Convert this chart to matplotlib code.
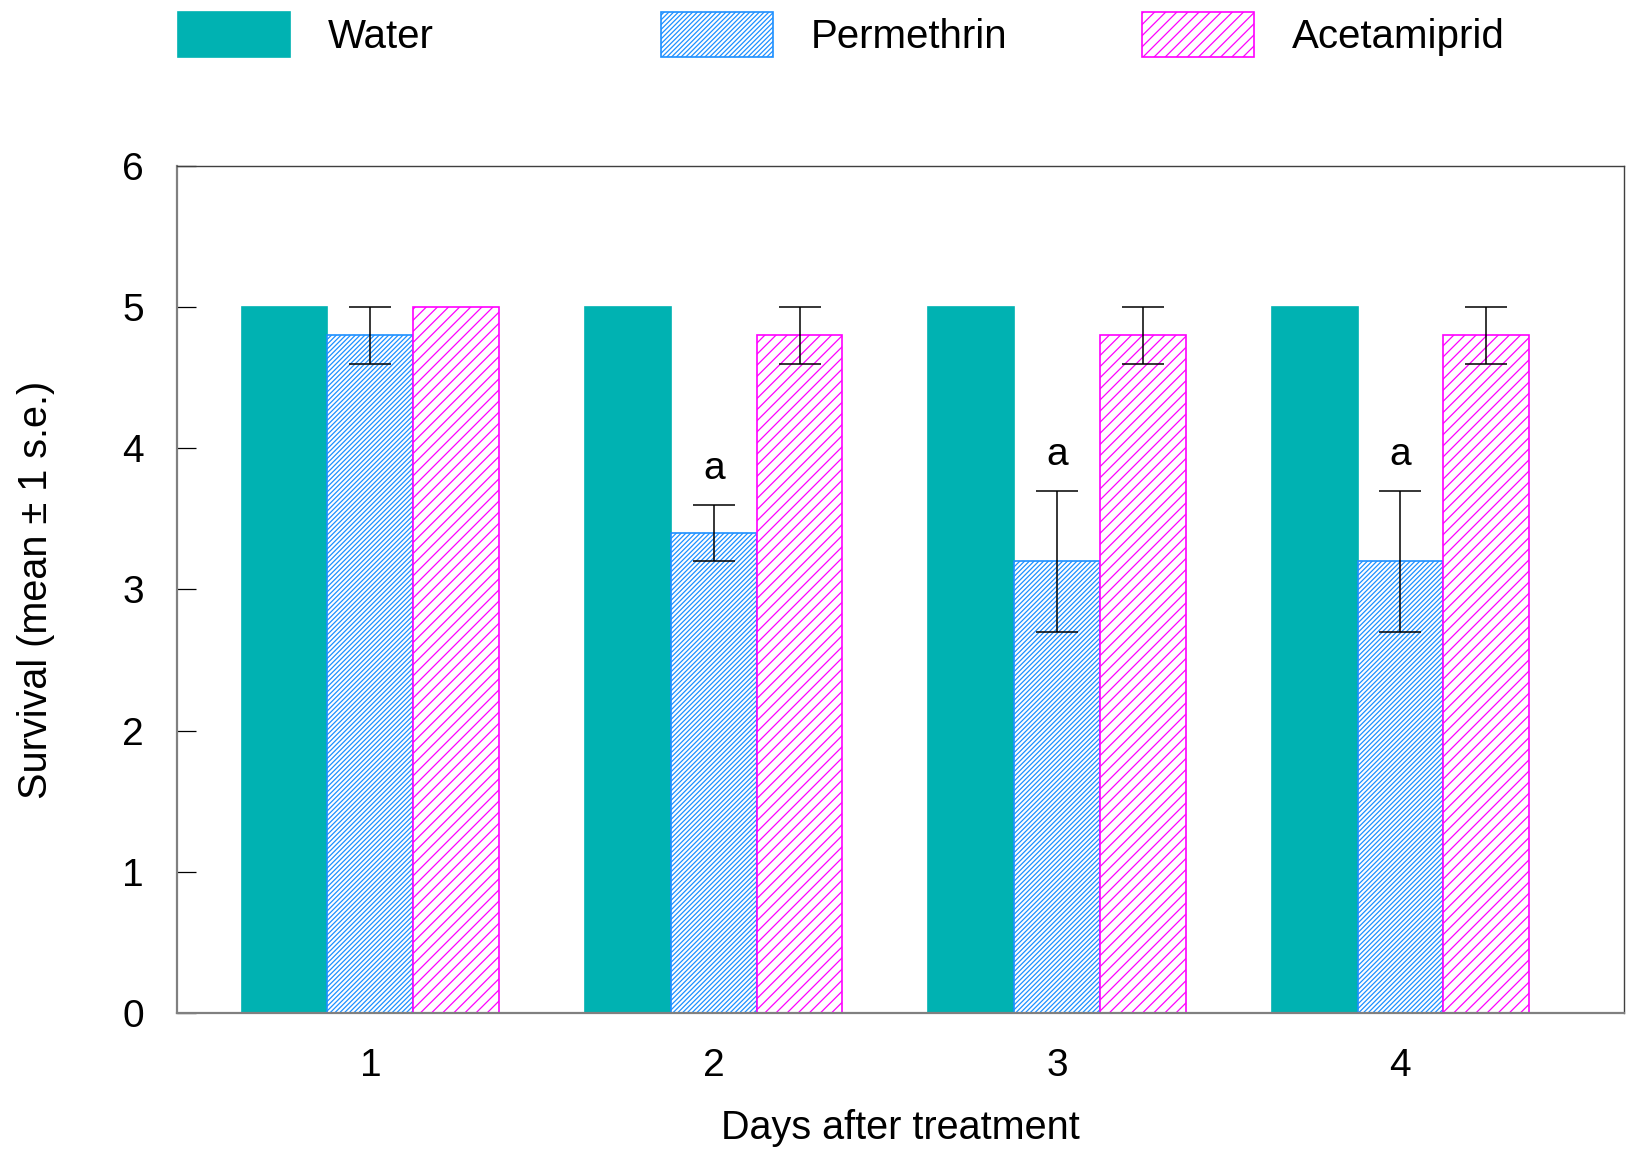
import numpy as np
import matplotlib
matplotlib.use("Agg")
import matplotlib.pyplot as plt
from matplotlib.patches import Patch

plt.rcParams['font.family'] = ['Liberation Sans', 'DejaVu Sans']
plt.rcParams['hatch.linewidth'] = 0.9

days = [1, 2, 3, 4]
series = ["Water", "Permethrin", "Acetamiprid"]
water = [5.0, 5.0, 5.0, 5.0]
water_se = [0, 0, 0, 0]
permethrin = [4.8, 3.4, 3.2, 3.2]
permethrin_se = [0.2, 0.2, 0.5, 0.5]
acetamiprid = [5.0, 4.8, 4.8, 4.8]
acetamiprid_se = [0, 0.2, 0.2, 0.2]
letters = ["", "a", "a", "a"]  # above permethrin bars

fig = plt.figure(figsize=(16.29, 11.52), dpi=100)
ax = fig.add_axes([0.1087, 0.1207, 0.8882, 0.7352])

x = np.array(days, dtype=float)
w = 0.25
styles = [
    dict(facecolor='#00B2B2', edgecolor='#00B2B2', hatch=None),
    dict(facecolor='white', edgecolor='#1E90FF', hatch='///////'),
    dict(facecolor='white', edgecolor='#FF00FF', hatch='///'),
]
vals = [water, permethrin, acetamiprid]
errs = [water_se, permethrin_se, acetamiprid_se]

for i, (v, e, st) in enumerate(zip(vals, errs, styles)):
    xs = x + (i - 1) * w
    ax.bar(xs, v, width=w, linewidth=1.2, **st)
    e = np.array(e)
    m = e > 0
    if m.any():
        ax.errorbar(xs[m], np.array(v)[m], yerr=e[m], fmt='none',
                    ecolor='black', elinewidth=1.1, capsize=15, capthick=1.1)

for xi, v, e, lab in zip(x, permethrin, permethrin_se, letters):
    if lab:
        ax.text(xi, v + e + 0.25, lab, ha='center', va='center', fontsize=28)

ax.set_xlim(0.437, 4.651)
ax.set_ylim(0, 6)
ax.set_xticks(days)
ax.set_yticks(range(7))
ax.tick_params(axis='x', length=0, pad=25, labelsize=28)
ax.tick_params(axis='y', direction='in', length=14, width=0.9, pad=24, labelsize=28)

for s in ['left', 'bottom']:
    ax.spines[s].set_color('#808080')
    ax.spines[s].set_linewidth(1.6)
for s in ['top', 'right']:
    ax.spines[s].set_color('#404040')
    ax.spines[s].set_linewidth(1.0)

ax.set_xlabel("Days after treatment", fontsize=28.5, labelpad=18)
ax.set_ylabel("Survival (mean \u00b1 1 s.e.)", fontsize=28.5, labelpad=48)

# legend: one entry per slot, patches evenly spaced across the top
leg_x = [0.1093, 0.4058, 0.7010]
for name, st, lx in zip(series, styles, leg_x):
    h = Patch(linewidth=1.2, **st)
    fig.legend([h], [name], loc='upper left', bbox_to_anchor=(lx, 0.990),
               frameon=False, fontsize=29, borderpad=0, borderaxespad=0,
               handlelength=2.78, handleheight=1.36, handletextpad=0.94)

fig.savefig("out.png", dpi=100)
